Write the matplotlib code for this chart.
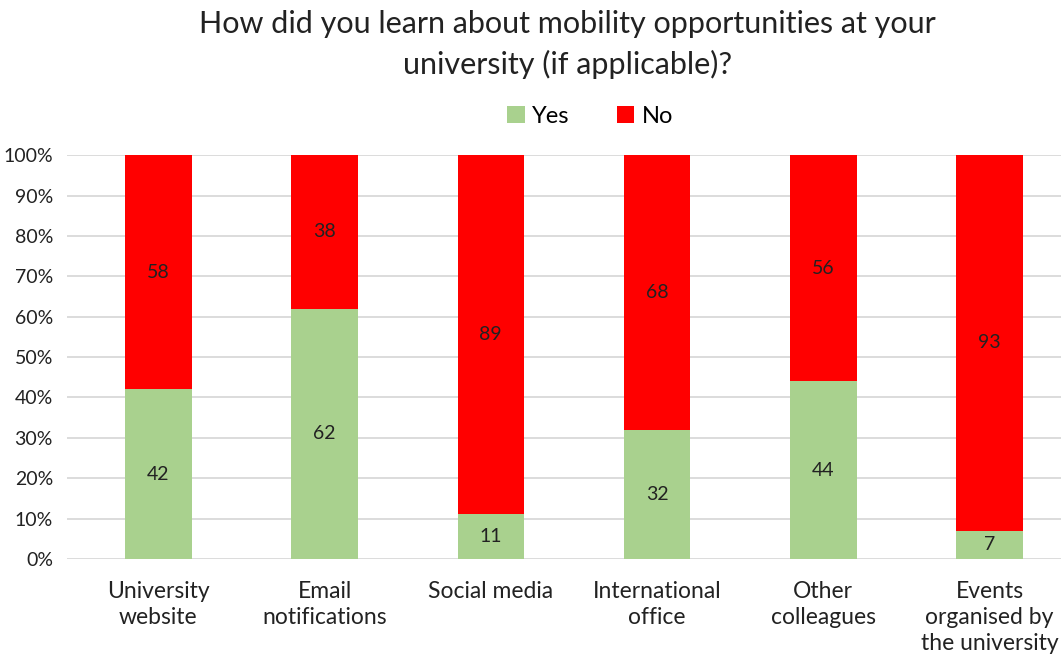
import matplotlib.pyplot as plt
import numpy as np
from matplotlib.ticker import PercentFormatter

categories = ['University\nwebsite', 'Email\nnotifications', 'Social media',
              'International\noffice', 'Other\ncolleagues',
              'Events\norganised by\nthe university']
yes = [42, 62, 11, 32, 44, 7]
no = [58, 38, 89, 68, 56, 93]

plt.rcParams['font.family'] = ['Lato', 'DejaVu Sans']

yes_a = np.array(yes, dtype=float)
no_a = np.array(no, dtype=float)
total = yes_a + no_a
yes_p = yes_a / total * 100
no_p = no_a / total * 100

fig = plt.figure(figsize=(10.61, 6.63), dpi=100)
ax = fig.add_axes([0.063, 0.157, 0.937, 0.609])

x = np.arange(len(categories))
w = 0.4
ax.bar(x, yes_p, w, color='#a9d18e', label='Yes', zorder=3)
ax.bar(x, no_p, w, bottom=yes_p, color='#ff0000', label='No', zorder=3)

for i in range(len(x)):
    ax.text(x[i], yes_p[i] / 2, str(yes[i]), ha='center', va='center',
            fontsize=14, color='#222222', zorder=4)
    ax.text(x[i], yes_p[i] + no_p[i] / 2, str(no[i]), ha='center', va='center',
            fontsize=14, color='#222222', zorder=4)

ax.set_xlim(-0.55, 5.43)
ax.set_ylim(0, 100)
ax.set_yticks(np.arange(0, 101, 10))
ax.yaxis.set_major_formatter(PercentFormatter(decimals=0))
ax.grid(axis='y', color='#d9d9d9', linewidth=1.3, zorder=0)
for s in ax.spines.values():
    s.set_visible(False)
ax.tick_params(length=0)
ax.tick_params(axis='y', labelsize=14, labelcolor='#222222', pad=10)
ax.set_xticks(x)
ax.set_xticklabels(categories, fontsize=16.5, color='#222222', va='top', linespacing=1.3)
ax.tick_params(axis='x', pad=16)

fig.text(0.535, 0.985, 'How did you learn about mobility opportunities at your\nuniversity (if applicable)?',
         ha='center', va='top', fontsize=22, color='#222222', linespacing=1.5)

fig.legend(loc='center', bbox_to_anchor=(0.556, 0.825), ncol=2, frameon=False,
           fontsize=17, handlelength=0.75, handleheight=0.75, handletextpad=0.3,
           columnspacing=2.0)

fig.savefig('out.png', dpi=100)
